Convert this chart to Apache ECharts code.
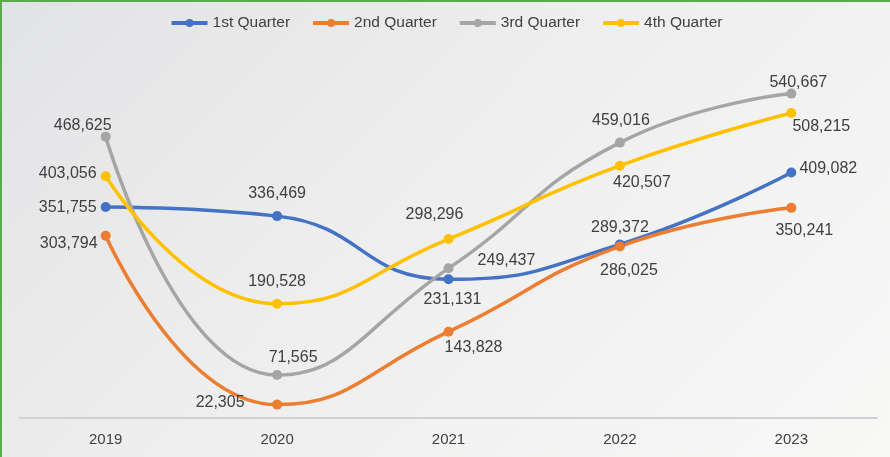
<!DOCTYPE html>
<html>
<head>
<meta charset="utf-8">
<script src="https://cdn.jsdelivr.net/npm/echarts@6/dist/echarts.min.js"></script>
<style>
  html, body { margin: 0; padding: 0; }
  #chart {
    width: 890px;
    height: 457px;
    box-sizing: border-box;
    border-top: 2px solid #5aab4c;
    border-left: 2px solid #5aab4c;
    background: linear-gradient(135deg, #e2e3e5 0%, #eeeeee 45%, #f8f8f7 100%);
  }
</style>
</head>
<body>
<div id="chart"></div>
<script>
var years = ['2019', '2020', '2021', '2022', '2023'];
var q1 = [351755, 336469, 231131, 289372, 409082];
var q2 = [303794, 22305, 143828, 286025, 350241];
var q3 = [468625, 71565, 249437, 459016, 540667];
var q4 = [403056, 190528, 298296, 420507, 508215];

// label offsets from each dot (text centre), px
var q1Off = [[-38, 1], [0, -23], [4, 20], [0, -17], [37, -4]];
var q2Off = [[-37, 8], [-57, -2], [25, 16], [9, 24], [13, 23]];
var q3Off = [[-23, -11], [16, -17], [58, -8], [1, -22], [7, -11]];
var q4Off = [[-38, -3], [0, -22], [-14, -24], [22, 17], [30, 14]];

var fmt = function (v) {
  return String(v).replace(/\B(?=(\d{3})+(?!\d))/g, ',');
};

function makeSeries(name, values, offs, color) {
  return {
    name: name,
    type: 'line',
    smooth: 0.5,
    symbol: 'circle',
    symbolSize: 10,
    itemStyle: { color: color },
    lineStyle: { color: color, width: 3.5 },
    data: values.map(function (v, i) {
      return {
        value: v,
        label: { offset: offs[i] }
      };
    }),
    label: {
      show: true,
      position: 'inside',
      color: '#404040',
      fontSize: 16,
      fontFamily: 'Liberation Sans',
      formatter: function (p) { return fmt(p.value); }
    }
  };
}

var myChart = echarts.init(document.getElementById('chart'));

var option = {
  animation: false,
  textStyle: { fontFamily: 'Liberation Sans' },
  legend: {
    top: 8,
    left: 'center',
    itemWidth: 36,
    itemHeight: 10,
    itemGap: 21,
    lineStyle: { width: 4 },
    textStyle: { color: '#404040', fontSize: 15.5 },
    data: ['1st Quarter', '2nd Quarter', '3rd Quarter', '4th Quarter']
  },
  grid: {
    left: 18,
    right: 13,
    top: 56,
    bottom: 39
  },
  xAxis: {
    type: 'category',
    data: years,
    boundaryGap: true,
    axisLine: { lineStyle: { color: '#d0d0d0', width: 2 } },
    axisTick: { show: false },
    axisLabel: { color: '#404040', fontSize: 15, margin: 14 }
  },
  yAxis: {
    type: 'value',
    min: 0,
    max: 600000,
    show: false
  },
  series: [
    makeSeries('1st Quarter', q1, q1Off, '#4472c4'),
    makeSeries('2nd Quarter', q2, q2Off, '#ed7d31'),
    makeSeries('3rd Quarter', q3, q3Off, '#a5a5a5'),
    makeSeries('4th Quarter', q4, q4Off, '#ffc000')
  ]
};

myChart.setOption(option);
</script>
</body>
</html>
